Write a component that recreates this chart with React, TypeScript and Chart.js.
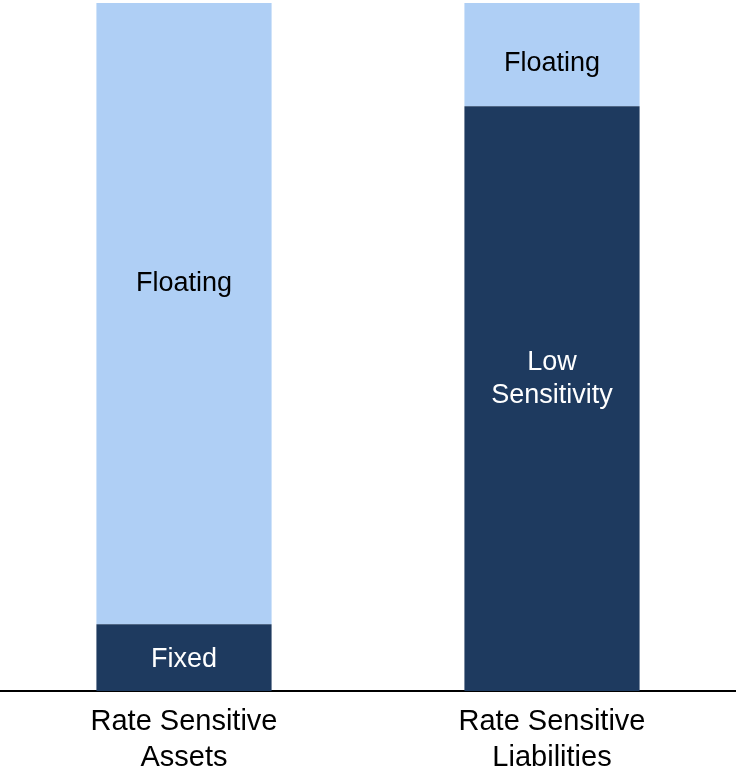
import React, { useEffect, useRef } from 'react';
import { Chart, registerables } from 'chart.js';

Chart.register(...registerables);

// Two stacked columns: rate sensitive assets vs. liabilities
const categories = [
  ['Rate Sensitive', 'Assets'],
  ['Rate Sensitive', 'Liabilities'],
];
const lowerValues = [9.7, 85];
const upperValues = [90.3, 15];
const lowerLabels = [['Fixed'], ['Low', 'Sensitivity']];
const upperLabels = [['Floating'], ['Floating']];
// where each segment's caption sits, in axis units
const lowerLabelAt = [4.6, 45.35];
const upperLabelAt = [59.2, 91.2];

const DARK = '#1E3A5F';
const LIGHT = '#AFCFF5';
const FONT = '"Liberation Sans", Arial, Helvetica, sans-serif';

const segmentLabels = {
  id: 'segmentLabels',
  afterDatasetsDraw(chart: any) {
    const ctx = chart.ctx;
    const yScale = chart.scales.y;
    chart.data.datasets.forEach((ds: any, di: number) => {
      const meta = chart.getDatasetMeta(di);
      meta.data.forEach((bar: any, i: number) => {
        const lines: string[] = ds.segLabels[i];
        const cy = yScale.getPixelForValue(ds.segLabelAt[i]);
        const lh = 33;
        const start = cy - ((lines.length - 1) * lh) / 2;
        ctx.save();
        ctx.font = `27px ${FONT}`;
        ctx.fillStyle = ds.segLabelColor;
        ctx.textAlign = 'center';
        ctx.textBaseline = 'middle';
        lines.forEach((t, k) => ctx.fillText(t, bar.x, start + k * lh));
        ctx.restore();
      });
    });
  },
};

export default function App() {
  const canvasRef = useRef<HTMLCanvasElement | null>(null);

  useEffect(() => {
    document.body.style.margin = '0';
    const canvas = canvasRef.current;
    if (!canvas) return;
    const chart = new Chart(canvas, {
      type: 'bar',
      data: {
        labels: categories as any,
        datasets: [
          {
            label: 'Fixed / Low Sensitivity',
            data: lowerValues,
            backgroundColor: DARK,
            borderWidth: 0,
            barPercentage: 1,
            categoryPercentage: 0.476,
            segLabels: lowerLabels,
            segLabelAt: lowerLabelAt,
            segLabelColor: '#FFFFFF',
          } as any,
          {
            label: 'Floating',
            data: upperValues,
            backgroundColor: LIGHT,
            borderWidth: 0,
            barPercentage: 1,
            categoryPercentage: 0.476,
            segLabels: upperLabels,
            segLabelAt: upperLabelAt,
            segLabelColor: '#000000',
          } as any,
        ],
      },
      options: {
        animation: false,
        responsive: false,
        devicePixelRatio: 1,
        layout: { padding: { top: 3, left: 0, right: 0, bottom: 0 } },
        plugins: {
          legend: { display: false },
          tooltip: { enabled: false },
        },
        scales: {
          x: {
            stacked: true,
            offset: true,
            grid: { display: false, drawTicks: false, tickLength: 0 },
            border: { display: true, color: '#000000', width: 2 },
            ticks: {
              color: '#000000',
              padding: 13,
              maxRotation: 0,
              autoSkip: false,
              font: { family: FONT, size: 29, lineHeight: 36 / 29 },
            },
            afterFit: (scale: any) => {
              scale.height = 79;
            },
          },
          y: {
            stacked: true,
            display: false,
            min: 0,
            max: 100,
          },
        },
      },
      plugins: [segmentLabels],
    });
    return () => chart.destroy();
  }, []);

  return (
    <div style={{ width: 736, height: 770 }}>
      <canvas ref={canvasRef} width={736} height={770} style={{ display: 'block' }} />
    </div>
  );
}
